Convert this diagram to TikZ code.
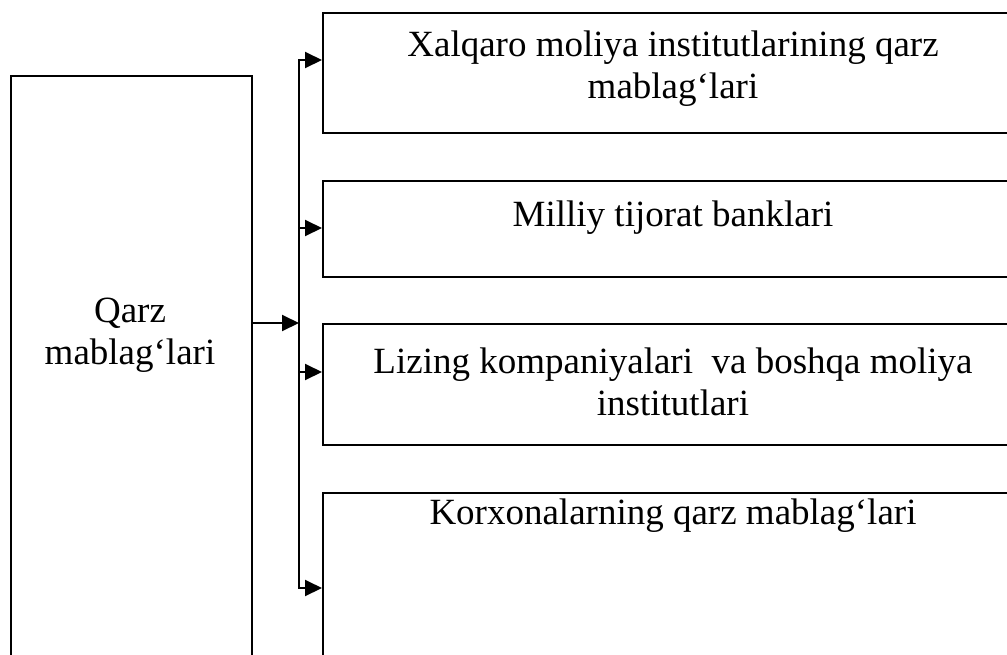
\documentclass[tikz,border=0pt]{standalone}
\usepackage{fontspec}
\setmainfont{Liberation Serif}
\usetikzlibrary{arrows.meta}
\begin{document}
\begin{tikzpicture}[x=1pt,y=-1pt, line width=2pt,
  box/.style={draw, line width=2pt, rectangle, inner sep=0pt, anchor=north west, minimum width=702pt},
  lbl/.style={font=\fontsize{37}{42}\selectfont, align=center, inner sep=0pt},
  arr/.style={-{Triangle[length=17pt 0,width=16pt 0]}}]
\useasboundingbox (0,0) rectangle (1007,654);
\begin{scope}
\clip (0,0) rectangle (1007,654);
\node[box, minimum width=241pt, minimum height=640pt] (src) at (10,75) {};
\node[box, minimum height=120pt] (box1) at (322,12) {};
\node[box, minimum height=96pt] (box2) at (322,180) {};
\node[box, minimum height=121pt] (box3) at (322,323) {};
\node[box, minimum height=250pt] (box4) at (322,492) {};
\end{scope}
\node[lbl] (srct) at (130,335) {Qarz\\mablag‘lari};
\node[lbl] (t1) at (673,69) {Xalqaro moliya institutlarining qarz\\mablag‘lari};
\node[lbl] (t2) at (673,218) {Milliy tijorat banklari};
\node[lbl] (t3) at (673,382) {Lizing kompaniyalari\ \ va boshqa moliya\\institutlari};
\node[lbl] (t4) at (673,516) {Korxonalarning qarz mablag‘lari};
\coordinate (b1) at (299,60);
\coordinate (b2) at (299,228);
\coordinate (j) at (299,323);
\coordinate (b3) at (299,372);
\coordinate (b4) at (299,588);
\draw[line cap=rect] (b1) -- (b4);
\draw[arr] (b1) -- (b1 -| box1.west);
\draw[arr] (b2) -- (b2 -| box2.west);
\draw[arr] (b3) -- (b3 -| box3.west);
\draw[arr] (b4) -- (b4 -| box4.west);
\draw[arr] (j -| src.east) -- (j);
\end{tikzpicture}
\end{document}
